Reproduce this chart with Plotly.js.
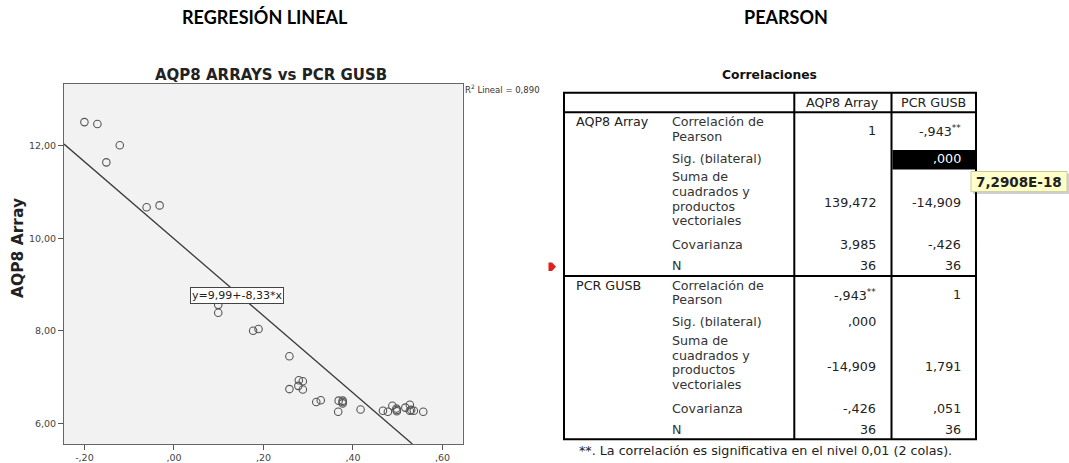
<!DOCTYPE html>
<html>
<head>
<meta charset="utf-8">
<script src="https://cdn.plot.ly/plotly-3.0.1.min.js"></script>
<style>html,body{margin:0;padding:0;background:#fff;}#chart{width:1069px;height:463px;}</style>
</head>
<body>
<div id="chart"></div>
<script>
// ---- Scatter data (PCR GUSB vs AQP8 Array) ----
const pcrGusb = [-0.200, -0.171, -0.121, -0.151, -0.061, -0.032, 0.099, 0.099, 0.177, 0.189,
                 0.258, 0.279, 0.288, 0.278, 0.258, 0.288, 0.318, 0.328, 0.368, 0.377,
                 0.377, 0.367, 0.417, 0.467, 0.478, 0.488, 0.497, 0.498, 0.517, 0.527,
                 0.527, 0.536, 0.557, 0.498, 0.377, 0.530];
const aqp8Array = [12.51, 12.47, 12.01, 11.64, 10.67, 10.71, 8.56, 8.39, 8.00, 8.04,
                   7.45, 6.93, 6.91, 6.81, 6.74, 6.73, 6.46, 6.50, 6.49, 6.49,
                   6.43, 6.25, 6.30, 6.27, 6.25, 6.38, 6.32, 6.26, 6.34, 6.40,
                   6.27, 6.27, 6.25, 6.29, 6.46, 6.29];
const fitIntercept = 9.99;
const fitSlope = -8.33;
const fitLabel = 'y=9,99+-8,33*x';
const r2Label = 'R<sup>2</sup> Lineal = 0,890';
const xTickVals = [-0.2, 0, 0.2, 0.4, 0.6];
const xTickText = ['-,20', ',00', ',20', ',40', ',60'];
const yTickVals = [6, 8, 10, 12];
const yTickText = ['6,00', '8,00', '10,00', '12,00'];

// ---- Pearson correlation table ----
const tableHeaders = ['AQP8 Array', 'PCR GUSB'];
const tableGroups = ['AQP8 Array', 'PCR GUSB'];
const statLabels = [['Correlación de', 'Pearson'], ['Sig. (bilateral)'], ['Suma de', 'cuadrados y', 'productos', 'vectoriales'], ['Covarianza'], ['N']];
const colAQP8 = [['1', '', '139,472', '3,985', '36'], ['-,943<sup>**</sup>', ',000', '-14,909', '-,426', '36']];
const colPCR  = [['-,943<sup>**</sup>', ',000', '-14,909', '-,426', '36'], ['1', '', '1,791', ',051', '36']];
const sigExact = '7,2908E-18';
const footnote = '**. La correlación es significativa en el nivel 0,01 (2 colas).';

const W = 1069, H = 463;
const px = v => v / W;
const py = v => 1 - v / H;

const xRange = [-0.2456, 0.6447];
const yRange = [5.553, 13.34];

// regression line end points from coefficients, clipped to the plot range
const xFitStart = xRange[0];
const xFitEnd = (yRange[0] - fitIntercept) / fitSlope;
const fitX = [xFitStart, xFitEnd];
const fitY = fitX.map(x => fitIntercept + fitSlope * x);

const traces = [
  {x: pcrGusb, y: aqp8Array, type: 'scatter', mode: 'markers',
   marker: {symbol: 'circle-open', size: 7.5, color: '#555', line: {width: 1.1, color: '#555'}},
   hoverinfo: 'x+y'},
  {x: fitX, y: fitY, type: 'scatter', mode: 'lines', line: {color: '#3a3a3a', width: 1.3}, hoverinfo: 'skip'}
];

const TS = 12.7;
const tfont = {family: 'DejaVu Sans', size: TS, color: '#222'};
const ann = [];
const shapes = [];
function T(text, x, y, opts) {
  ann.push(Object.assign({text: text, x: px(x), y: py(y), xref: 'paper', yref: 'paper',
    showarrow: false, xanchor: 'left', yanchor: 'middle', align: 'left', font: tfont}, opts || {}));
}
function L(x0, y0, x1, y1, w, c) {
  shapes.push({type: 'line', xref: 'paper', yref: 'paper', x0: px(x0), y0: py(y0), x1: px(x1), y1: py(y1),
    line: {color: c || '#000', width: w || 2}});
}
function R(x0, y0, x1, y1, fill, lc, lw, layer) {
  shapes.push({type: 'rect', xref: 'paper', yref: 'paper', x0: px(x0), y0: py(y0), x1: px(x1), y1: py(y1),
    fillcolor: fill, line: {color: lc || fill, width: lw === undefined ? 0 : lw}, layer: layer || 'above'});
}

// page titles
T('REGRESIÓN LINEAL', 264.5, 17, {xanchor: 'center', font: {family: 'Lato', size: 18, color: '#000', weight: 'bold'}});
T('PEARSON', 786, 17, {xanchor: 'center', font: {family: 'Lato', size: 18, color: '#000', weight: 'bold'}});

// chart texts
T('AQP8 ARRAYS vs PCR GUSB', 271, 75, {xanchor: 'center', font: {family: 'DejaVu Sans', size: 15, color: '#222', weight: 'bold'}});
T('AQP8 Array', 18, 248, {xanchor: 'center', textangle: -90, font: {family: 'DejaVu Sans', size: 15.5, color: '#222', weight: 'bold'}});
T(r2Label, 463, 89.5, {font: {family: 'DejaVu Sans', size: 8.5, color: '#333'}});
ann.push({text: fitLabel, x: 0.1403, y: 8.769, xref: 'x', yref: 'y', showarrow: false,
  xanchor: 'center', yanchor: 'middle', bgcolor: '#ffffff', bordercolor: '#444', borderwidth: 1, borderpad: 1,
  font: {family: 'DejaVu Sans', size: 11, color: '#222'}});

// correlation table
const tL = 564, tR = 976, tT = 92.8, tB = 439.3, hdrB = 112.3, c1 = 794.3, c2 = 891.5;
const groupTop = [hdrB, 276];
T('Correlaciones', 769, 75, {xanchor: 'center', font: {family: 'DejaVu Sans', size: 12.3, color: '#111', weight: 'bold'}});
T(tableHeaders[0], (c1 + c2) / 2, 102.5, {xanchor: 'center'});
T(tableHeaders[1], (c2 + tR) / 2, 102.5, {xanchor: 'center'});
const labelFirst = [9.3, 45.7, 64.7, 132.3, 153];
const valueOff = [18.5, 45.7, 90, 132.3, 153];
const lineStep = 14.6;
for (let g = 0; g < 2; g++) {
  const top = groupTop[g];
  T(tableGroups[g], 573.5, top + 9.3);
  for (let r = 0; r < statLabels.length; r++) {
    statLabels[r].forEach((line, i) => {
      T(line, 669.5, top + labelFirst[r] + i * lineStep, {font: {family: 'DejaVu Sans', size: TS, color: '#333'}});
    });
    const blackCell = (g === 0 && r === 1);
    if (colAQP8[g][r]) T(colAQP8[g][r], 878, top + valueOff[r], {xanchor: 'right', align: 'right'});
    if (colPCR[g][r]) T(colPCR[g][r], 963, top + valueOff[r], {xanchor: 'right', align: 'right',
      font: {family: 'DejaVu Sans', size: TS, color: blackCell ? '#fff' : '#222'}});
  }
}
// black highlighted cell
R(892.5, 150, 975, 169.5, '#000', '#000', 0, 'below');
// grid lines
shapes.push({type: 'rect', xref: 'paper', yref: 'paper', x0: px(tL), y0: py(tT), x1: px(tR), y1: py(tB),
  line: {color: '#000', width: 2}, fillcolor: 'rgba(0,0,0,0)'});
L(tL, hdrB, tR, hdrB);
L(tL, groupTop[1], tR, groupTop[1]);
L(c1, tT, c1, tB);
L(c2, tT, c2, tB);
T(footnote, 577, 450, {font: {family: 'DejaVu Sans', size: TS, color: '#222'}});

// tooltip with exact significance
R(973, 173.5, 1069, 194, 'rgba(0,0,0,0.18)');
R(971, 171.5, 1067, 191.7, '#ffffc8', '#c9c9a0', 1);
T(sigExact, 1019, 182, {xanchor: 'center', font: {family: 'DejaVu Sans', size: 13.5, color: '#222', weight: 'bold'}});

// red pointer at left of table
shapes.push({type: 'path', xref: 'paper', yref: 'paper',
  path: 'M ' + px(548.5) + ' ' + py(262.5) + ' L ' + px(552) + ' ' + py(262.5) + ' L ' + px(556) + ' ' + py(266.7) +
        ' L ' + px(552) + ' ' + py(271) + ' L ' + px(548.5) + ' ' + py(271) + ' Z',
  fillcolor: '#e0201c', line: {color: '#e0201c', width: 0}});

const axFont = {family: 'DejaVu Sans', size: 9.5, color: '#444'};
const layout = {
  width: W, height: H, margin: {l: 0, r: 0, t: 0, b: 0},
  paper_bgcolor: '#ffffff', plot_bgcolor: '#f2f2f2', showlegend: false,
  xaxis: {domain: [px(64), px(462.5)], range: xRange, tickvals: xTickVals, ticktext: xTickText,
    ticks: 'outside', ticklen: 5, tickcolor: '#555', tickwidth: 1, showline: true, mirror: true,
    linecolor: '#666', linewidth: 1, showgrid: false, zeroline: false, tickfont: axFont, fixedrange: true},
  yaxis: {domain: [py(444), py(83.7)], range: yRange, tickvals: yTickVals, ticktext: yTickText,
    ticks: 'outside', ticklen: 5, tickcolor: '#555', tickwidth: 1, showline: true, mirror: true,
    linecolor: '#666', linewidth: 1, showgrid: false, zeroline: false, tickfont: axFont, fixedrange: true},
  annotations: ann, shapes: shapes
};
Plotly.newPlot('chart', traces, layout, {displayModeBar: false, staticPlot: true});
</script>
</body>
</html>
